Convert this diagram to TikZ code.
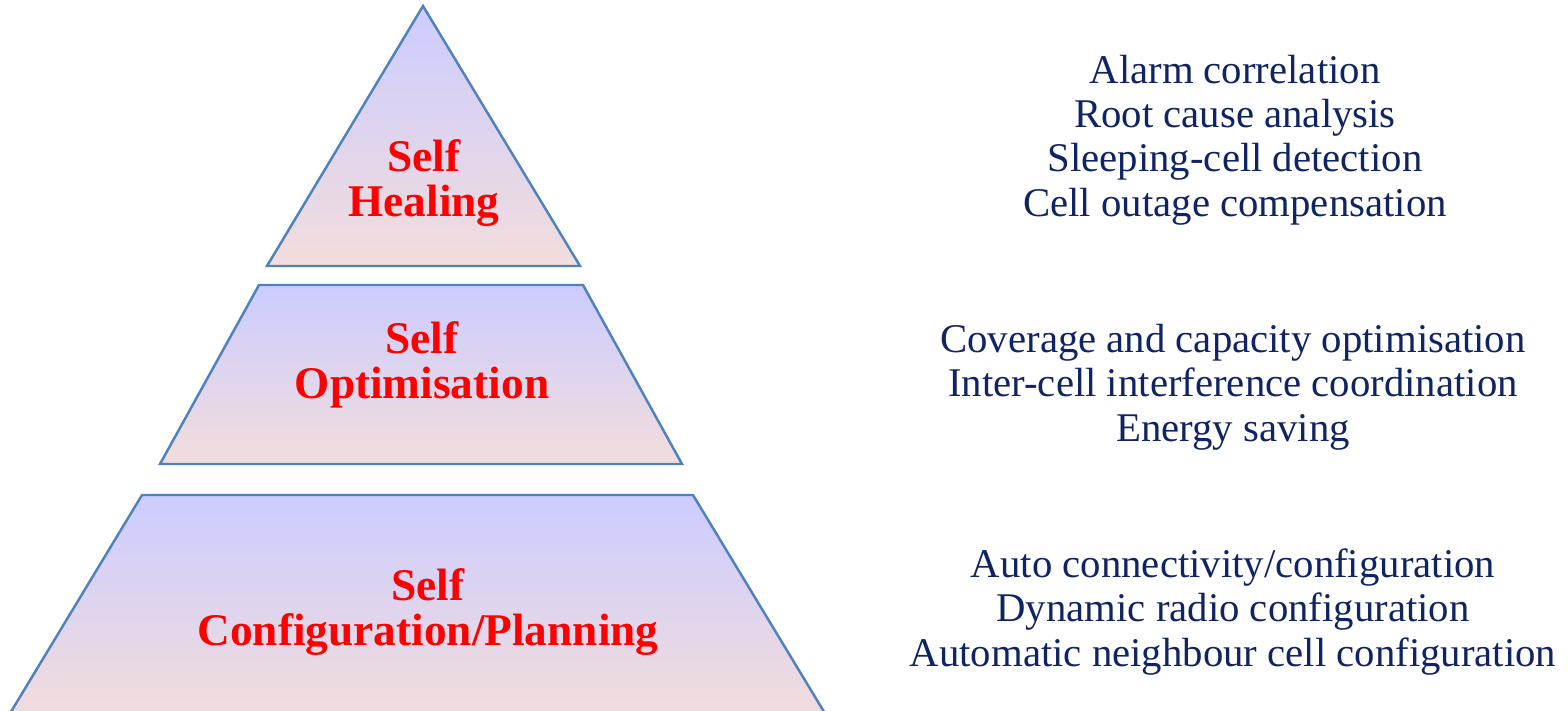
\documentclass[tikz,border=0pt]{standalone}
\usepackage{fontspec}
\setmainfont{Liberation Serif}

\definecolor{tiertop}{RGB}{204,204,255}
\definecolor{tierbottom}{RGB}{242,221,220}
\definecolor{tierline}{RGB}{79,129,189}
\definecolor{tasknavy}{RGB}{16,36,100}

\begin{document}
\begin{tikzpicture}[x=0.02cm,y=-0.02cm,
	tier/.style		=	{top color=tiertop,bottom color=tierbottom,draw=tierline,line width=1.4pt},
	tier label/.style	=	{text=red,align=center,font=\bfseries\fontsize{25.8}{25.6}\selectfont},
	task list/.style	=	{text=tasknavy,align=center,font=\fontsize{23.2}{25.3}\selectfont}]

	\useasboundingbox (0,0) rectangle (1568,710);
	\clip (0,0) rectangle (1568,710);

	% the three tiers of the pyramid
	\shadedraw[tier] (423,6) -- (580,266) -- (267,266) -- cycle;
	\shadedraw[tier] (259,285) -- (583,285) -- (682,464) -- (160,464) -- cycle;
	\shadedraw[tier] (142,495) -- (693,495) -- (829,720) -- (6,720) -- cycle;

	\node[tier label] (heal)	at (424,183) {Self\\Healing};
	\node[tier label] (optim)	at (422,365) {Self\\Optimisation};
	\node[tier label] (config)	at (428,612) {Self\\Configuration/Planning};

	% functions belonging to each tier
	\node[task list] (heal tasks)	at (1235,140)
		{Alarm correlation\\Root cause analysis\\Sleeping-cell detection\\Cell outage compensation};
	\node[task list] (optim tasks)	at (1233,387)
		{Coverage and capacity optimisation\\Inter-cell interference coordination\\Energy saving};
	\node[task list] (config tasks)	at (1233,612)
		{Auto connectivity/configuration\\Dynamic radio configuration\\Automatic neighbour cell configuration};
\end{tikzpicture}
\end{document}
